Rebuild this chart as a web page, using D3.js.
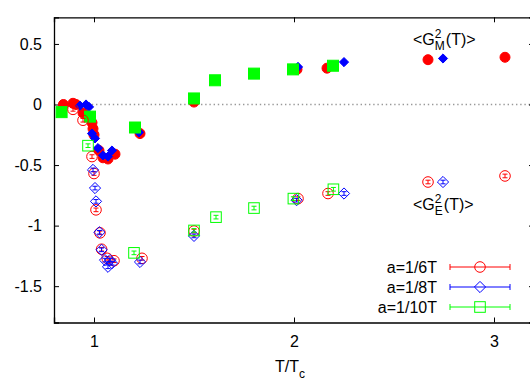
<!DOCTYPE html>
<html>
<head>
<meta charset="utf-8">
<script src="https://cdn.jsdelivr.net/npm/d3@7"></script>
<style>
  body { margin: 0; background: #fff; }
  text { font-family: "Liberation Sans", Arial, sans-serif; fill: #000; }
</style>
</head>
<body>
<div class="chart"></div>
<script>
// magnetic (filled) and electric (open) gluon condensates, [T/Tc, value, error]
const magnetic6 = [[0.847,0.0,0.01],[0.895,0.01,0.01],[0.91,0.0,0.01],[0.945,-0.07,0.01],[0.99,-0.15,0.01],[0.995,-0.2,0.01],
  [1.0,-0.25,0.01],[1.025,-0.38,0.01],[1.045,-0.44,0.01],[1.07,-0.45,0.01],[1.105,-0.41,0.01],[1.23,-0.24,0.01],[1.5,0.02,0.01],
  [2.015,0.29,0.01],[2.165,0.30,0.01],[2.67,0.37,0.01],[3.055,0.39,0.01]];
const magnetic8 = [[0.93,-0.01,0.01],[0.96,0.0,0.01],[0.975,-0.02,0.01],[0.99,-0.24,0.01],[1.005,-0.28,0.01],[1.02,-0.36,0.01],
  [1.045,-0.42,0.01],[1.07,-0.43,0.01],[1.09,-0.38,0.01],[1.225,-0.23,0.01],[2.02,0.31,0.01],[2.25,0.35,0.01],[2.745,0.38,0.01]];
const magnetic10 = [[0.838,-0.063,0.01],[0.98,-0.1,0.01],[1.205,-0.19,0.01],[1.5,0.05,0.01],[1.605,0.2,0.01],
  [1.8,0.255,0.01],[1.995,0.29,0.01],[2.195,0.32,0.01]];
const electric6 = [[0.895,-0.04,0.015],[0.945,-0.13,0.015],[0.99,-0.43,0.015],[1.0,-0.57,0.015],[1.01,-0.87,0.015],[1.03,-1.06,0.015],
  [1.038,-1.195,0.015],[1.066,-1.27,0.015],[1.1,-1.29,0.015],[1.24,-1.27,0.015],[1.5,-1.045,0.015],[2.02,-0.777,0.015],
  [2.17,-0.735,0.015],[2.67,-0.64,0.015],[3.055,-0.59,0.015]];
const electric8 = [[0.995,-0.54,0.015],[1.005,-0.69,0.015],[1.01,-0.80,0.015],[1.027,-1.055,0.015],[1.038,-1.2,0.015],
  [1.055,-1.285,0.015],[1.07,-1.34,0.015],[1.08,-1.285,0.015],[1.09,-1.31,0.015],[1.23,-1.30,0.015],[1.5,-1.085,0.015],
  [2.013,-0.79,0.015],[2.25,-0.735,0.015],[2.745,-0.64,0.015]];
const electric10 = [[0.97,-0.34,0.015],[1.2,-1.225,0.015],[1.5,-1.04,0.015],[1.61,-0.93,0.015],[1.8,-0.855,0.015],
  [1.997,-0.777,0.015],[2.197,-0.70,0.015]];
const xTicks = [1, 2, 3];
const yTicks = [-1.5, -1, -0.5, 0, 0.5];
const legendLabels = ["a=1/6T", "a=1/8T", "a=1/10T"];

const width = 530, height = 383;
const margin = { top: 17.3, right: -4, bottom: 60.5, left: 54 };

const svg = d3.select(".chart").append("svg")
  .attr("width", width).attr("height", height);

const x = d3.scaleLinear().domain([0.8, 3.2]).range([margin.left, width - margin.right]);
const y = d3.scaleLinear().domain([-1.8, 0.72]).range([height - margin.bottom, margin.top]);

// zero line
svg.append("line")
  .attr("x1", x(0.8)).attr("x2", x(3.2)).attr("y1", y(0)).attr("y2", y(0))
  .attr("stroke", "#999").attr("stroke-width", 1.4).attr("stroke-dasharray", "1.4,2.8");

// axes with inward ticks
const tickLen = 5;
svg.append("g").attr("transform", "translate(0," + y(-1.8) + ")")
  .call(d3.axisBottom(x).tickValues(xTicks).tickSize(-tickLen).tickPadding(13).tickFormat(d3.format("d")));
svg.append("g").attr("transform", "translate(0," + y(0.72) + ")")
  .call(d3.axisTop(x).tickValues(xTicks).tickSize(-tickLen).tickFormat(""));
svg.append("g").attr("transform", "translate(" + x(0.8) + ",0)")
  .call(d3.axisLeft(y).tickValues(yTicks).tickSize(-tickLen).tickPadding(12).tickFormat(d => d));
svg.append("g").attr("transform", "translate(" + x(3.2) + ",0)")
  .call(d3.axisRight(y).tickValues(yTicks).tickSize(-tickLen).tickFormat(""));
svg.selectAll(".domain").attr("stroke", "#000").attr("stroke-width", 1.3);
svg.selectAll(".tick line").attr("stroke", "#000");
svg.selectAll(".tick text").style("font-size", "16px").style("font-family", "Liberation Sans, Arial, sans-serif");

// x label
const xl = svg.append("text").attr("x", 275).attr("y", 372).style("font-size", "16px");
xl.append("tspan").text("T/T");
xl.append("tspan").attr("dy", 6).style("font-size", "12px").text("c");

function marker(g, type, color, filled, cx, cy) {
  if (type === "circle") {
    g.append("circle").attr("cx", cx).attr("cy", cy).attr("r", filled ? 5 : 5.3)
      .attr("fill", filled ? color : "none").attr("stroke", color).attr("stroke-width", 1);
  } else if (type === "diamond") {
    const s = filled ? 4.6 : 5.6;
    g.append("path").attr("d", `M${cx},${cy - s}L${cx + s},${cy}L${cx},${cy + s}L${cx - s},${cy}Z`)
      .attr("fill", filled ? color : "none").attr("stroke", color).attr("stroke-width", 1);
  } else {
    const s = filled ? 5.5 : 5.3;
    g.append("rect").attr("x", cx - s).attr("y", cy - s).attr("width", 2 * s).attr("height", 2 * s)
      .attr("fill", filled ? color : "none").attr("stroke", color).attr("stroke-width", 1);
  }
}

function drawSeries(data, type, color, filled) {
  const g = svg.append("g");
  data.forEach(d => {
    const cx = x(d[0]), cy = y(d[1]);
    const y0 = y(d[1] - d[2]), y1 = y(d[1] + d[2]);
    g.append("line").attr("x1", cx).attr("x2", cx).attr("y1", y0).attr("y2", y1)
      .attr("stroke", color).attr("stroke-width", 1);
    [y0, y1].forEach(yy => g.append("line").attr("x1", cx - 2.5).attr("x2", cx + 2.5)
      .attr("y1", yy).attr("y2", yy).attr("stroke", color).attr("stroke-width", 1));
    marker(g, type, color, filled, cx, cy);
  });
}

drawSeries(magnetic6, "circle", "#ff0000", true);
drawSeries(magnetic8, "diamond", "#0000ff", true);
drawSeries(magnetic10, "square", "#00ff00", true);
drawSeries(electric6, "circle", "#ff0000", false);
drawSeries(electric8, "diamond", "#0000ff", false);
drawSeries(electric10, "square", "#00ff00", false);

// condensate labels
function condLabel(x0, yb, sub) {
  const t1 = svg.append("text").attr("x", x0).attr("y", yb).style("font-size", "16px").text("<G");
  const w = t1.node().getComputedTextLength();
  svg.append("text").attr("x", x0 + w).attr("y", yb - 7).style("font-size", "12px").text("2");
  const ts = svg.append("text").attr("x", x0 + w).attr("y", yb + 5).style("font-size", "12px").text(sub);
  const ws = ts.node().getComputedTextLength();
  svg.append("text").attr("x", x0 + w + ws + 1).attr("y", yb).style("font-size", "16px").text("(T)>");
}
condLabel(413, 45, "M");
condLabel(413, 210, "E");

// legend
const legendTypes = ["circle", "diamond", "square"];
const legendColors = ["#ff0000", "#0000ff", "#00ff00"];
legendLabels.forEach((lab, i) => {
  const ly = 267 + i * 20;
  svg.append("text").attr("x", 437).attr("y", ly + 5.5).attr("text-anchor", "end")
    .style("font-size", "16px").text(lab);
  const g = svg.append("g");
  g.append("line").attr("x1", 450).attr("x2", 510).attr("y1", ly).attr("y2", ly)
    .attr("stroke", legendColors[i]).attr("stroke-width", 1);
  [450, 510].forEach(xx => g.append("line").attr("x1", xx).attr("x2", xx)
    .attr("y1", ly - 3).attr("y2", ly + 3).attr("stroke", legendColors[i]).attr("stroke-width", 1));
  marker(g, legendTypes[i], legendColors[i], false, 480, ly);
});
</script>
</body>
</html>
